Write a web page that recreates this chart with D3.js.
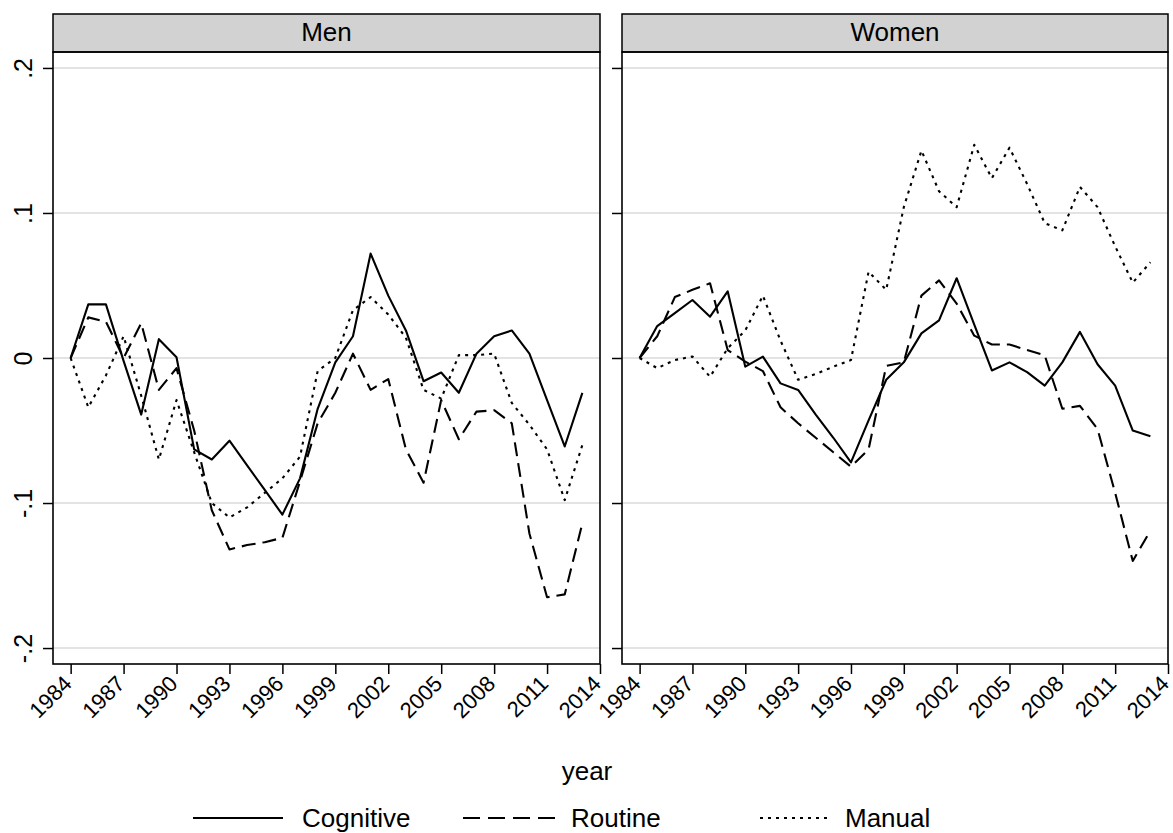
<!DOCTYPE html>
<html><head><meta charset="utf-8">
<script src="https://cdn.jsdelivr.net/npm/d3@7"></script>
<style>body{margin:0;background:#fff;} text{font-family:"Liberation Sans",Arial,sans-serif;}</style>
</head><body>
<svg id="c" width="1173" height="833"></svg>
<script>
const years = [1984,1985,1986,1987,1988,1989,1990,1991,1992,1993,1994,1995,1996,1997,1998,1999,2000,2001,2002,2003,2004,2005,2006,2007,2008,2009,2010,2011,2012,2013];
const xTicks = [1984,1987,1990,1993,1996,1999,2002,2005,2008,2011,2014];
const yTicks = [-0.2,-0.1,0,0.1,0.2];
const yTickLabels = ["-.2","-.1","0",".1",".2"];
const panels = ["Men","Women"];
const seriesNames = ["Cognitive","Routine","Manual"];

const menCognitive = [0,0.037,0.037,-0.002,-0.039,0.013,0.0005,-0.063,-0.070,-0.057,-0.074,-0.091,-0.108,-0.083,-0.035,-0.003,0.015,0.072,0.043,0.019,-0.016,-0.010,-0.024,0.003,0.015,0.019,0.003,-0.029,-0.061,-0.024];
const menRoutine   = [0,0.028,0.025,0.0,0.024,-0.022,-0.007,-0.050,-0.105,-0.132,-0.129,-0.127,-0.124,-0.085,-0.045,-0.024,0.003,-0.022,-0.0145,-0.063,-0.086,-0.029,-0.056,-0.037,-0.036,-0.045,-0.121,-0.165,-0.163,-0.114];
const menManual    = [0,-0.034,-0.012,0.015,-0.026,-0.070,-0.029,-0.065,-0.100,-0.110,-0.103,-0.093,-0.083,-0.068,-0.009,0.0,0.033,0.042,0.030,0.014,-0.022,-0.028,0.002,0.002,0.003,-0.031,-0.046,-0.063,-0.098,-0.060];

const womenCognitive = [0,0.022,0.031,0.040,0.0285,0.046,-0.006,0.001,-0.0175,-0.022,-0.039,-0.055,-0.072,-0.043,-0.015,-0.003,0.017,0.026,0.055,0.023,-0.0086,-0.003,-0.0097,-0.019,-0.003,0.018,-0.0043,-0.019,-0.050,-0.054];
const womenRoutine   = [0,0.015,0.042,0.047,0.0515,0.0055,-0.0025,-0.009,-0.034,-0.045,-0.055,-0.065,-0.075,-0.063,-0.0055,-0.003,0.043,0.0535,0.0375,0.0154,0.0093,0.0093,0.0055,0.0018,-0.035,-0.033,-0.049,-0.093,-0.140,-0.119];
const womenManual    = [0,-0.007,-0.0014,0.001,-0.013,0.0067,0.019,0.043,0.012,-0.015,-0.011,-0.006,-0.0014,0.0595,0.047,0.104,0.143,0.115,0.104,0.147,0.124,0.145,0.120,0.093,0.088,0.118,0.104,0.077,0.052,0.066];

const panelData = {
  Men: [menCognitive, menRoutine, menManual],
  Women: [womenCognitive, womenRoutine, womenManual]
};
const dashes = ["none","14,7","3,5"];

const svg = d3.select("#c");
const plotTop = 52, plotBottom = 664, stripTop = 14;
const panelX = {Men:[53,600], Women:[622,1168]};
const y = d3.scaleLinear().domain([-0.211,0.211]).range([plotBottom, plotTop]);
const FONT = "Liberation Sans, Arial, sans-serif";

panels.forEach((p, pi) => {
  const [x0,x1] = panelX[p];
  const x = d3.scaleLinear().domain([1983,2014]).range([x0,x1]);
  const g = svg.append("g");
  g.selectAll(".grid").data(yTicks).join("line")
    .attr("x1", x0).attr("x2", x1).attr("y1", d=>y(d)).attr("y2", d=>y(d))
    .attr("stroke", "#e3e3e3").attr("stroke-width", 2);
  g.append("rect").attr("x", x0).attr("y", stripTop).attr("width", x1-x0).attr("height", plotTop-stripTop)
    .attr("fill", "#d2d2d2").attr("stroke", "#000").attr("stroke-width", 1.5);
  g.append("text").attr("x", (x0+x1)/2).attr("y", 41).attr("text-anchor","middle")
    .attr("font-size", 26).text(p);
  const line = d3.line().x((d,i)=>x(years[i])).y(d=>y(d));
  panelData[p].forEach((vals, si) => {
    g.append("path").datum(vals).attr("d", line).attr("fill","none")
      .attr("stroke","#000").attr("stroke-width",2.1)
      .attr("stroke-dasharray", dashes[si]).attr("stroke-linejoin","round");
  });
  g.append("rect").attr("x", x0).attr("y", plotTop).attr("width", x1-x0).attr("height", plotBottom-plotTop)
    .attr("fill","none").attr("stroke","#000").attr("stroke-width",1.6);
  const xa = g.append("g").attr("transform", `translate(0,${plotBottom})`)
    .call(d3.axisBottom(x).tickValues(xTicks).tickFormat(d3.format("d")).tickSize(10).tickSizeOuter(0));
  xa.select(".domain").remove();
  xa.selectAll(".tick line").attr("stroke","#000").attr("stroke-width",1.5);
  xa.selectAll(".tick text").attr("font-size",22).attr("font-family",FONT)
    .attr("fill","#000").attr("text-anchor","end").attr("dy",0).attr("y",0)
    .attr("transform","translate(2,21) rotate(-45)");
  const ya = g.append("g").attr("transform", `translate(${x0},0)`)
    .call(d3.axisLeft(y).tickValues(yTicks).tickFormat((d,i)=>yTickLabels[i]).tickSize(10).tickSizeOuter(0));
  ya.select(".domain").remove();
  ya.selectAll(".tick line").attr("stroke","#000").attr("stroke-width",1.5);
  if (pi === 0) {
    ya.selectAll(".tick text").attr("font-size",25).attr("font-family",FONT)
      .attr("fill","#000").attr("text-anchor","middle").attr("x",0).attr("dy",0)
      .attr("transform","translate(-21,0) rotate(-90)");
  } else {
    ya.selectAll(".tick text").remove();
  }
});

svg.append("text").attr("x", 587).attr("y", 780).attr("text-anchor","middle").attr("font-size",26).text("year");

const legendItems = [
  {name: seriesNames[0], lx1: 193, lx2: 283, tx: 302, dash: "none"},
  {name: seriesNames[1], lx1: 463, lx2: 555, tx: 571, dash: "17,8"},
  {name: seriesNames[2], lx1: 760, lx2: 830, tx: 845, dash: "3,5"}
];
const lg = svg.append("g");
legendItems.forEach(d => {
  lg.append("line").attr("x1", d.lx1).attr("x2", d.lx2).attr("y1", 818).attr("y2", 818)
    .attr("stroke","#000").attr("stroke-width",2.1).attr("stroke-dasharray", d.dash);
  lg.append("text").attr("x", d.tx).attr("y", 827).attr("font-size",26).text(d.name);
});
</script>
</body></html>
